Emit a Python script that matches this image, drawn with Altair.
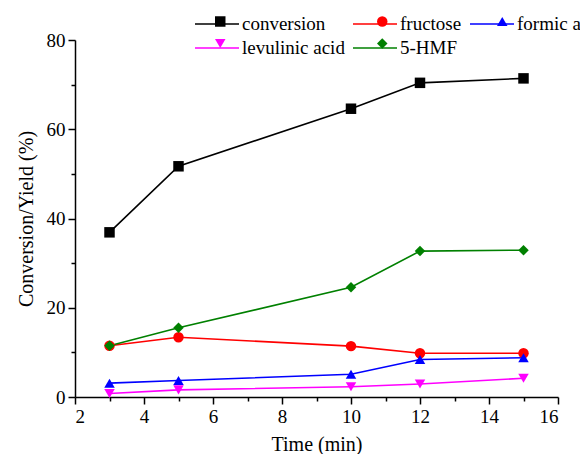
import altair as alt
import pandas as pd

time_min = [3, 5, 10, 12, 15]
conversion = [36.9, 51.7, 64.6, 70.4, 71.4]
fructose = [11.5, 13.4, 11.4, 9.8, 9.8]
formic_acid = [3.1, 3.7, 5.1, 8.4, 8.8]
levulinic_acid = [0.8, 1.6, 2.3, 2.9, 4.2]
hmf = [11.5, 15.5, 24.6, 32.7, 32.9]

series_names = ["conversion", "fructose", "formic acid", "levulinic acid", "5-HMF"]
series_values = [conversion, fructose, formic_acid, levulinic_acid, hmf]
colors = ["#000000", "#FF0000", "#0000FF", "#FF00FF", "#008000"]
shapes = ["square", "circle", "triangle-up", "triangle-down", "diamond"]

rows = []
for name, vals in zip(series_names, series_values):
    for t, v in zip(time_min, vals):
        rows.append({"time": t, "value": v, "series": name, "series_line": name})
df = pd.DataFrame(rows)

FONT = "Liberation Serif"
LEG_X = 119
LEG_Y = -28

x_enc = alt.X(
    "time:Q",
    scale=alt.Scale(domain=[2, 16], nice=False),
    axis=alt.Axis(
        title="Time (min)",
        values=list(range(2, 17)),
        labelExpr="datum.value % 2 === 0 ? datum.label : ''",
        tickSize={"condition": {"test": "datum.value % 2 === 0", "value": 7}, "value": 4},
        grid=False,
    ),
)
y_enc = alt.Y(
    "value:Q",
    scale=alt.Scale(domain=[0, 80], nice=False),
    axis=alt.Axis(
        title="Conversion/Yield (%)",
        values=list(range(0, 81, 10)),
        labelExpr="datum.value % 20 === 0 ? datum.label : ''",
        tickSize={"condition": {"test": "datum.value % 20 === 0", "value": 7}, "value": 4},
        grid=False,
    ),
)

common_legend = dict(
    title=None,
    orient="none",
    direction="horizontal",
    legendX=LEG_X,
    legendY=LEG_Y,
    columns=3,
    gridAlign="none",
    columnPadding=4,
    rowPadding=2,
    labelFont=FONT,
    labelFontSize=19,
    labelColor="#000000",
)

line_legend = alt.Legend(
    symbolType="M-2,0H2",
    symbolSize=484,
    symbolOffset=11,
    labelOffset=13,
    symbolStrokeWidth=1.6,
    **common_legend,
)

marker_legend = alt.Legend(
    symbolSize=110,
    symbolOffset=16.75,
    labelOffset=18.75,
    symbolOpacity=1,
    symbolStrokeWidth=0,
    labelOpacity=0,
    **common_legend,
)

lines = alt.Chart(df).mark_line(strokeWidth=1.6).encode(
    x=x_enc,
    y=y_enc,
    color=alt.Color(
        "series_line:N",
        scale=alt.Scale(domain=series_names, range=colors),
        legend=line_legend,
    ),
)

points = alt.Chart(df).mark_point(filled=True, size=110, opacity=1).encode(
    x=x_enc,
    y=y_enc,
    color=alt.Color(
        "series:N",
        scale=alt.Scale(domain=series_names, range=colors),
        legend=marker_legend,
    ),
    shape=alt.Shape(
        "series:N",
        scale=alt.Scale(domain=series_names, range=shapes),
        legend=marker_legend,
    ),
)

chart = (
    alt.layer(lines, points)
    .resolve_scale(color="independent", shape="independent")
    .properties(
        width=483,
        height=357,
        autosize=alt.AutoSizeParams(type="none"),
        padding={"left": 67, "top": 32, "right": 22, "bottom": 57},
    )
    .configure_view(stroke=None)
    .configure_axis(
        domainColor="#000000",
        domainWidth=1.5,
        tickColor="#000000",
        tickWidth=1.5,
        labelFont=FONT,
        labelFontSize=19,
        labelColor="#000000",
        titleFont=FONT,
        titleFontSize=20,
        titleFontWeight="normal",
        titleColor="#000000",
        labelPadding=3,
    )
    .configure_axisX(titlePadding=8)
    .configure_axisY(titlePadding=10)
)

chart.save("out.html", embed_options={"renderer": "svg", "actions": False})
